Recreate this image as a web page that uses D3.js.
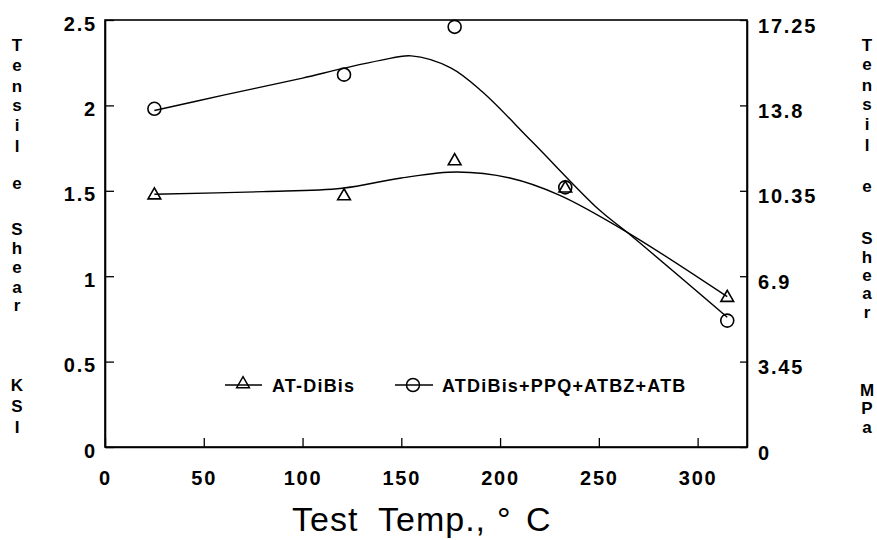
<!DOCTYPE html>
<html>
<head>
<meta charset="utf-8">
<script src="https://cdn.jsdelivr.net/npm/d3@7"></script>
<style>
    body { margin: 0; background: #fff; }
    svg { display: block; font-family: "Liberation Sans", Arial, sans-serif; }
    .tick text { font-weight: bold; fill: #000; }
</style>
</head>
<body>
<svg id="chart" width="877" height="540"></svg>
<script>
// measured points (test temperature in C, tensile shear in ksi)
const temps = [25, 121, 177, 233, 315];
const atDiBis = [1.48, 1.475, 1.68, 1.52, 0.88];
const atMix = [1.98, 2.18, 2.46, 1.52, 0.74];

// fitted curves
const triFitTemps = [25, 80, 120, 150, 178, 205, 230, 264, 315];
const triFitVals = [1.48, 1.495, 1.515, 1.575, 1.61, 1.575, 1.475, 1.26, 0.88];
const mixFitTemps = [25, 60, 100, 120, 140, 155, 175, 191, 216, 250, 264, 315];
const mixFitVals = [1.97, 2.06, 2.16, 2.215, 2.265, 2.29, 2.22, 2.08, 1.79, 1.39, 1.26, 0.76];

const xTicks = [0, 50, 100, 150, 200, 250, 300];
const ksiTicks = [0, 0.5, 1, 1.5, 2, 2.5];
const mpaTicks = [0, 3.45, 6.9, 10.35, 13.8, 17.25];
const legendNames = ["AT-DiBis", "ATDiBis+PPQ+ATBZ+ATB"];

const svg = d3.select("#chart");
const plot = { left: 105, right: 747, top: 20, bottom: 447 };

const x = d3.scaleLinear().domain([0, 325]).range([plot.left, plot.right]);
const y = d3.scaleLinear().domain([0, 2.5]).range([plot.bottom, plot.top]);
const y2 = d3.scaleLinear().domain([0, 17.25]).range([plot.bottom, plot.top]);

// frame
svg.append("rect")
    .attr("x", plot.left).attr("y", plot.top)
    .attr("width", plot.right - plot.left).attr("height", plot.bottom - plot.top)
    .attr("fill", "none").attr("stroke", "#000").attr("stroke-width", 1.6);

// axes with inward ticks
const gx = svg.append("g")
    .attr("transform", `translate(0,${plot.bottom})`)
    .call(d3.axisBottom(x).tickValues(xTicks).tickSize(-9).tickSizeOuter(0).tickPadding(24));
const gy = svg.append("g")
    .attr("transform", `translate(${plot.left},0)`)
    .call(d3.axisLeft(y).tickValues(ksiTicks).tickFormat(d3.format("")).tickSize(-9).tickSizeOuter(0).tickPadding(8));
const gy2 = svg.append("g")
    .attr("transform", `translate(${plot.right},0)`)
    .call(d3.axisRight(y2).tickValues(mpaTicks).tickFormat(d3.format("")).tickSize(-7).tickSizeOuter(0).tickPadding(11));

[gx, gy, gy2].forEach(g => {
    g.select(".domain").attr("stroke-width", 1.6);
    g.selectAll(".tick line").attr("stroke-width", 1.3);
    g.selectAll(".tick text")
        .style("font-size", "20px")
        .style("letter-spacing", "1.8px");
});
gy.selectAll(".tick text").attr("dy", "0.5em");
gy2.selectAll(".tick text").attr("dy", "0.6em");

// fitted curves
const line = d3.line()
    .x(d => x(d[0]))
    .y(d => y(d[1]))
    .curve(d3.curveCatmullRom.alpha(0.5));

svg.append("path")
    .datum(d3.zip(triFitTemps, triFitVals))
    .attr("d", line)
    .attr("fill", "none").attr("stroke", "#000").attr("stroke-width", 1.4);

svg.append("path")
    .datum(d3.zip(mixFitTemps, mixFitVals))
    .attr("d", line)
    .attr("fill", "none").attr("stroke", "#000").attr("stroke-width", 1.4);

// markers
const tri = d3.symbol().type(d3.symbolTriangle).size(70);
svg.selectAll(".tri")
    .data(d3.zip(temps, atDiBis))
    .enter().append("path")
    .attr("class", "tri")
    .attr("transform", d => `translate(${x(d[0])},${y(d[1]) + 1})`)
    .attr("d", tri)
    .attr("fill", "none").attr("stroke", "#000").attr("stroke-width", 1.6);

svg.selectAll(".circ")
    .data(d3.zip(temps, atMix))
    .enter().append("circle")
    .attr("class", "circ")
    .attr("cx", d => x(d[0]))
    .attr("cy", d => y(d[1]))
    .attr("r", 6.5)
    .attr("fill", "none").attr("stroke", "#000").attr("stroke-width", 1.6);

// legend
const legY = 385;
const leg = svg.append("g");
leg.append("line").attr("x1", 225).attr("x2", 262).attr("y1", legY).attr("y2", legY)
    .attr("stroke", "#000").attr("stroke-width", 1.3);
leg.append("path").attr("transform", `translate(243,${legY - 1})`).attr("d", tri)
    .attr("fill", "none").attr("stroke", "#000").attr("stroke-width", 1.5);
leg.append("line").attr("x1", 395).attr("x2", 433).attr("y1", legY).attr("y2", legY)
    .attr("stroke", "#000").attr("stroke-width", 1.3);
leg.append("circle").attr("cx", 413).attr("cy", legY).attr("r", 6.5)
    .attr("fill", "none").attr("stroke", "#000").attr("stroke-width", 1.5);
leg.selectAll("text")
    .data(legendNames)
    .enter().append("text")
    .attr("x", (d, i) => i === 0 ? 272 : 442)
    .attr("y", legY + 6.5)
    .style("font-size", "18px")
    .style("font-weight", "bold")
    .style("letter-spacing", "1.2px")
    .text(d => d);

// stacked axis titles
function stacked(chars, ys, cx) {
    svg.append("g").selectAll("text")
        .data(chars)
        .enter().append("text")
        .attr("x", cx)
        .attr("y", (d, i) => ys[i])
        .attr("text-anchor", "middle")
        .attr("dominant-baseline", "central")
        .style("font-size", "17px")
        .style("font-weight", "bold")
        .text(d => d);
}
stacked("TensileShearKSI".split(""),
    [45, 65, 86, 105, 125, 146, 183, 229, 248, 267, 287, 305, 385, 406, 427], 17);
stacked("TensileShearMPa".split(""),
    [45, 64, 85, 104, 124, 145, 186, 238, 257, 275, 293, 312, 390, 408, 427], 867);

// x title
const title = svg.append("text")
    .attr("y", 531)
    .style("font-size", "34px")
    .style("letter-spacing", "1px");
title.append("tspan").attr("x", 292).text("Test");
title.append("tspan").attr("x", 378).text("Temp.,");
title.append("tspan").attr("x", 497).text("°");
title.append("tspan").attr("x", 526).text("C");
</script>
</body>
</html>
